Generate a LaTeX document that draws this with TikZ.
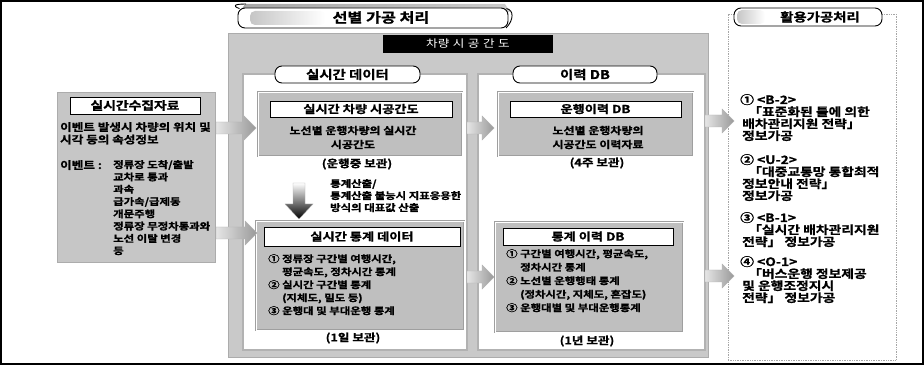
\documentclass[tikz,border=0pt]{standalone}
\usepackage{fontspec}
\setmainfont{Noto Sans CJK KR}[BoldFont={Noto Sans CJK KR Bold}, FakeStretch=1.2, BoldFeatures={FakeBold=1.2}]
\usetikzlibrary{calc}
\tikzset{
  fnt/.style={font=\bfseries\fontsize{#1}{#1}\selectfont},
  bodytxt/.style={font=\bfseries\fontsize{10.5}{12.5}\selectfont, align=left, inner sep=0pt, anchor=north west},
  rtxt/.style={font=\bfseries\fontsize{11.5}{12}\selectfont, align=left, inner sep=0pt, anchor=north west},
  ctxt/.style={font=\bfseries\fontsize{10}{14}\selectfont, align=center, inner sep=0pt},
  keeptxt/.style={font=\bfseries\fontsize{10.5}{10.5}\selectfont, inner sep=0pt},
  panel/.style={rectangle, fill=gray!42, draw=gray!65, line width=0.8pt, inner sep=0pt},
  whitepanel/.style={rectangle, fill=white, draw=gray!60, line width=1.2pt, inner sep=0pt},
  graybox/.style={rectangle, fill=gray!50, draw=gray!75, double=white, double distance=0.8pt, line width=0.6pt, inner sep=0pt},
  titlebox/.style={rectangle, fill=white, draw=black, line width=0.9pt, inner sep=0pt, font=\bfseries\fontsize{11}{11}\selectfont},
  scrollhdr/.style={rectangle, rounded corners=7pt, fill=white, draw=black, line width=0.9pt, inner sep=0pt},
  rpanel/.style={rectangle, fill=white, draw=gray!70, densely dotted, line width=0.7pt, inner sep=0pt},
}
\newcommand\blockarrowR[3]{%
  \shade[left color=gray!20, right color=gray!80, draw=gray!60, line width=0.4pt]
    (#1,#3-6) -- (#2-12,#3-6) -- (#2-12,#3-12) -- (#2,#3) -- (#2-12,#3+12) -- (#2-12,#3+6) -- (#1,#3+6) -- cycle;}
\begin{document}
\begin{tikzpicture}[x=1pt,y=-1pt]
\useasboundingbox (0,0) rectangle (924,366);
% outer frame
\draw[line width=1.4pt] (1,1) rectangle (923,364);

% ===== left: collected data =====
\node[panel, fill=gray!45, minimum width=158pt, minimum height=170pt] (lbox) at (136,177) {};
\node[titlebox, minimum width=130pt, minimum height=17pt] (ltitle) at (135,105.5) {\fontsize{11.5}{11.5}\selectfont 실시간수집자료};
\node[bodytxt] (ltxt) at (60,122) {이벤트 발생시 차량의 위치 및\\시각 등의 속성정보};
\node[bodytxt] (evlab) at (60,160) {이벤트 :};
\node[bodytxt, font=\bfseries\fontsize{9.5}{12.3}\selectfont] (evlist) at (113,160) {정류장 도착/출발\\교차로 통과\\과속\\급가속/급제동\\개문주행\\정류장 무정차통과와\\노선 이탈 변경\\등};

% ===== middle big panel =====
\node[panel, minimum width=480pt, minimum height=324pt] (mid) at (468,195) {};
\shade[left color=gray!70, right color=gray!40] (245,4) -- (505,4) -- (510,12) -- (240,12) -- cycle;
\node[scrollhdr, minimum width=270pt, minimum height=20pt] (midhdr) at (373,18) {};
\shade[left color=gray!45, right color=white, rounded corners=5pt] (250,11) rectangle (325,25);
\node[fnt=13.5] (midhdrtxt) at (381,17.5) {선별 가공 처리};
\draw[line width=0.9pt] (midhdr.north west) ++(2,1) .. controls (232,6) and (234,4) .. (246,4);
\draw[line width=0.9pt] (midhdr.north east) ++(-2,1) .. controls (514,10) and (514,20) .. (506,28);
\node[rectangle, fill=black, minimum width=170pt, minimum height=18pt, inner sep=0pt,
      text=white, font=\fontsize{10.5}{10.5}\selectfont] (bar) at (468,44) {차량\,\,시\,\,공\,\,간\,\,도};

% white sub-panels
\node[whitepanel, minimum width=224pt, minimum height=276pt] (wl) at (355,212) {};
\node[whitepanel, minimum width=227pt, minimum height=276pt] (wr) at (591.5,212) {};
\node[scrollhdr, minimum width=145pt, minimum height=17pt, fnt=12] (hl) at (347.5,74.5) {실시간 데이터};
\node[scrollhdr, minimum width=144pt, minimum height=17pt, fnt=12] (hr) at (585,74.5) {이력 DB};

% top-left box
\node[graybox, minimum width=204pt, minimum height=64pt] (tl) at (360,124) {};
\node[titlebox, minimum width=182pt, minimum height=16pt] (tlt) at (361,109) {실시간 차량 시공간도};
\node[ctxt] (tlb) at (353,137.5) {노선별 운행차량의 실시간\\시공간도};
\node[keeptxt] (tlk) at (357,164) {(운행중 보관)};

% top-right box
\node[graybox, minimum width=195pt, minimum height=64pt] (tr) at (595.5,124) {};
\node[titlebox, minimum width=171pt, minimum height=16pt] (trt) at (595.5,109) {운행이력 DB};
\node[ctxt] (trb) at (598,137.5) {노선별 운행차량의\\시공간도 이력자료};
\node[keeptxt] (trk) at (597,163) {(4주 보관)};

% down arrow and text
\shade[top color=white, bottom color=black, draw=gray!60, line width=0.3pt]
  (293,183) -- (305,183) -- (305,204) -- (313,204) -- (299,219) -- (285,204) -- (293,204) -- cycle;
\node[bodytxt, font=\bfseries\fontsize{9.5}{12}\selectfont] (calc) at (330,179) {통계산출/\\통계산출 불능시 지표응용한\\방식의 대표값 산출};

% bottom-left box
\node[graybox, minimum width=208pt, minimum height=109pt] (bl) at (360,275.5) {};
\node[titlebox, minimum width=196pt, minimum height=19pt] (blt) at (362,236.5) {실시간 통계 데이터};
\node[bodytxt, font=\bfseries\fontsize{9.5}{13}\selectfont] (blb) at (268,254) {① 정류장 구간별 여행시간,\\\hspace{14pt}평균속도, 정차시간 통계\\② 실시간 구간별 통계\\\hspace{14pt}(지체도, 밀도 등)\\③ 운행대 및 부대운행 통계};
\node[keeptxt] (blk) at (353,338) {(1일 보관)};

% bottom-right box
\node[graybox, minimum width=188pt, minimum height=110pt] (br) at (589,277) {};
\node[titlebox, minimum width=170pt, minimum height=17pt] (brt) at (588,236.5) {통계 이력 DB};
\node[bodytxt, font=\bfseries\fontsize{9.5}{13.5}\selectfont] (brb) at (506,249) {① 구간별 여행시간, 평균속도,\\\hspace{14pt}정차시간 통계\\② 노선별 운행행태 통계\\\hspace{14pt}(정차시간, 지체도, 혼잡도)\\③ 운행대별 및 부대운행통계};
\node[keeptxt] (brk) at (587,341) {(1년 보관)};

% ===== right panel =====
\node[rpanel, minimum width=168pt, minimum height=346pt] (rp) at (812,187) {};
\node[scrollhdr, minimum width=148pt, minimum height=18pt] (rh) at (808,17) {};
\shade[left color=gray!45, right color=white, rounded corners=5pt] (737,10) rectangle (765,24);
\node[fnt=12] (rhtxt) at (820,17) {활용가공처리};
\node[rtxt] (r1) at (740,94) {① <B-2>\\\hspace{8pt}「표준화된 틀에 의한\\\hspace{2pt}배차관리지원 전략」\\\hspace{2pt}정보가공};
\node[rtxt] (r2) at (740,154) {② <U-2>\\\hspace{8pt}「대중교통망 통합최적\\\hspace{2pt}정보안내 전략」\\\hspace{2pt}정보가공};
\node[rtxt] (r3) at (740,212) {③ <B-1>\\\hspace{8pt}「실시간 배차관리지원\\\hspace{2pt}전략」 정보가공};
\node[rtxt] (r4) at (740,256) {④ <O-1>\\\hspace{8pt}「버스운행 정보제공\\\hspace{2pt}및 운행조정지시\\\hspace{2pt}전략」 정보가공};

% ===== block arrows =====
\blockarrowR{216}{256}{128}
\blockarrowR{216}{257}{233}
\blockarrowR{467}{494}{128}
\blockarrowR{467}{494}{277}
\blockarrowR{705}{734}{121}
\blockarrowR{705}{734}{276}
\end{tikzpicture}
\end{document}
